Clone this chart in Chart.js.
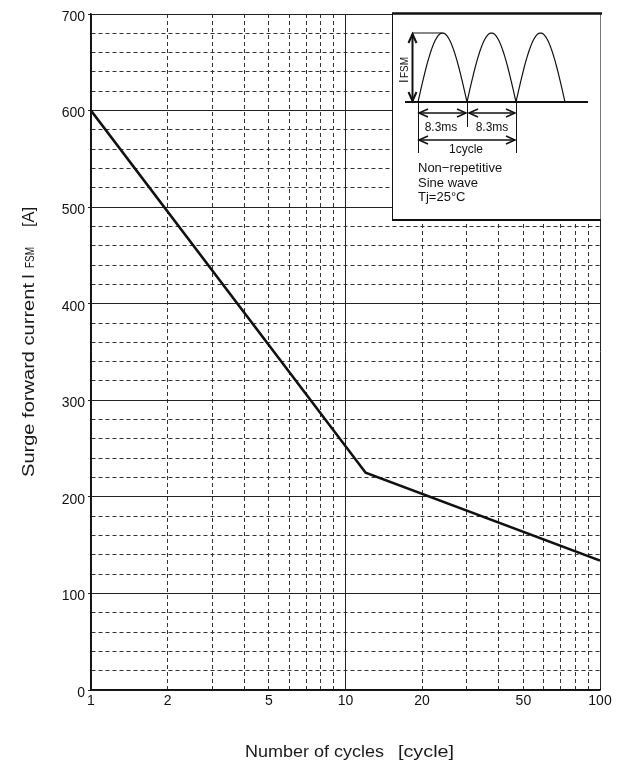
<!DOCTYPE html>
<html>
<head>
<meta charset="utf-8">
<script src="https://cdn.jsdelivr.net/npm/chart.js@4.4.1/dist/chart.umd.min.js"></script>
<style>
  html, body { margin: 0; padding: 0; background: #fff; }
  canvas { display: block; }
</style>
</head>
<body>
<canvas id="surge" width="626" height="765"></canvas>
<script>
// Surge forward current vs. number of cycles (non-repetitive, 60 Hz half-sine)
const cycles = [1, 12, 100];
const surgeCurrent = [600, 225, 134];

// Axis ticks
const cycleGridValues = [1, 2, 3, 4, 5, 6, 7, 8, 9, 10, 20, 30, 40, 50, 60, 70, 80, 90, 100];
const cycleLabels = [1, 2, 5, 10, 20, 50, 100];
const currentMajorStep = 100;
const currentMinorStep = 20;
const currentMax = 700;

const FONT = '"Liberation Sans", Arial, Helvetica, sans-serif';

function isDecade(v) {
  return v === 1 || v === 10 || v === 100;
}

// Draw text squeezed/stretched to an exact length
function fitText(ctx, text, x, y, length) {
  const w = ctx.measureText(text).width;
  ctx.save();
  ctx.translate(x, y);
  ctx.scale(length / w, 1);
  ctx.fillText(text, 0, 0);
  ctx.restore();
}

function arrowHead(ctx, x, y, dir, horizontal) {
  // open chevron arrow head pointing in direction dir (+1 / -1)
  ctx.beginPath();
  if (horizontal) {
    ctx.moveTo(x - dir * 9, y - 4);
    ctx.lineTo(x, y);
    ctx.lineTo(x - dir * 9, y + 4);
  } else {
    ctx.moveTo(x - 4, y - dir * 9);
    ctx.lineTo(x, y);
    ctx.lineTo(x + 4, y - dir * 9);
  }
  ctx.stroke();
}

function hArrow(ctx, x1, x2, y) {
  ctx.beginPath();
  ctx.moveTo(x1, y);
  ctx.lineTo(x2, y);
  ctx.stroke();
  arrowHead(ctx, x1, y, -1, true);
  arrowHead(ctx, x2, y, 1, true);
}

const titlesAndInset = {
  id: 'titlesAndInset',
  afterDraw(chart) {
    const ctx = chart.ctx;
    const area = chart.chartArea;

    // ---- axis titles ----
    ctx.save();
    ctx.fillStyle = '#1a1a1a';
    ctx.textBaseline = 'alphabetic';
    ctx.textAlign = 'left';

    ctx.font = '16px ' + FONT;
    fitText(ctx, 'Number of cycles', 245, 757, 139);
    fitText(ctx, '[cycle]', 398, 757, 56);

    ctx.translate(34, 0);
    ctx.rotate(-Math.PI / 2);
    // rotated frame: x runs upward on screen (x = -screenY)
    ctx.font = '16px ' + FONT;
    fitText(ctx, 'Surge forward current', -477, 0, 194);
    fitText(ctx, 'I', -279, 0, 5);
    ctx.font = '13px ' + FONT;
    fitText(ctx, 'FSM', -268, 0, 21);
    ctx.font = '16px ' + FONT;
    fitText(ctx, '[A]', -227, 0, 20);
    ctx.restore();

    // ---- waveform inset ----
    const ox = area.right - 208;   // left edge of inset box
    const oy = area.top - 1;       // top edge of inset box
    const W = area.right - ox;
    const H = 207;

    ctx.save();
    ctx.fillStyle = '#fff';
    ctx.fillRect(ox, oy, W + 1, H);

    ctx.strokeStyle = '#111';
    ctx.lineWidth = 1;
    ctx.beginPath();
    ctx.moveTo(ox + 0.5, oy);
    ctx.lineTo(ox + 0.5, oy + H);
    ctx.stroke();
    ctx.strokeStyle = '#777';
    ctx.beginPath();
    ctx.moveTo(area.right + 0.5, oy);
    ctx.lineTo(area.right + 0.5, oy + H);
    ctx.stroke();
    ctx.strokeStyle = '#111';
    ctx.lineWidth = 2.5;
    ctx.beginPath();
    ctx.moveTo(ox, oy + 0.5);
    ctx.lineTo(area.right + 2, oy + 0.5);
    ctx.stroke();
    ctx.lineWidth = 2;
    ctx.beginPath();
    ctx.moveTo(ox, oy + H);
    ctx.lineTo(area.right + 1, oy + H);
    ctx.stroke();

    const base = oy + 89;      // zero line of the waveform
    const peak = oy + 20;      // crest height
    const x0 = ox + 26;        // start of first half-wave
    const half = 49;           // width of one half-wave (8.3 ms)

    // baseline
    ctx.lineWidth = 2;
    ctx.beginPath();
    ctx.moveTo(ox + 13, base);
    ctx.lineTo(ox + 196, base);
    ctx.stroke();

    // three half-sine pulses
    ctx.lineWidth = 1.2;
    for (let k = 0; k < 3; k++) {
      ctx.beginPath();
      for (let i = 0; i <= 60; i++) {
        const t = Math.PI * i / 60;
        const px = x0 + k * half + half * i / 60;
        const py = base - (base - peak) * Math.sin(t);
        if (i === 0) ctx.moveTo(px, py); else ctx.lineTo(px, py);
      }
      ctx.stroke();
    }

    // IFSM amplitude marker
    ctx.lineWidth = 1;
    ctx.beginPath();
    ctx.moveTo(ox + 20, peak);
    ctx.lineTo(x0 + half / 2, peak);
    ctx.stroke();
    ctx.lineWidth = 2;
    ctx.beginPath();
    ctx.moveTo(ox + 20.5, peak + 1);
    ctx.lineTo(ox + 20.5, base - 1);
    ctx.stroke();
    arrowHead(ctx, ox + 20.5, peak + 1, -1, false);
    arrowHead(ctx, ox + 20.5, base - 1, 1, false);

    ctx.fillStyle = '#111';
    ctx.save();
    ctx.translate(ox + 16, base - 19);
    ctx.rotate(-Math.PI / 2);
    ctx.textAlign = 'left';
    ctx.textBaseline = 'alphabetic';
    ctx.font = '13px ' + FONT;
    ctx.fillText('I', 0, 0);
    ctx.font = '10px ' + FONT;
    ctx.fillText('FSM', 5, 0);
    ctx.restore();

    // timing marks
    ctx.lineWidth = 1;
    ctx.beginPath();
    ctx.moveTo(x0 + 0.5, base);
    ctx.lineTo(x0 + 0.5, oy + 140);
    ctx.moveTo(x0 + half + 0.5, base);
    ctx.lineTo(x0 + half + 0.5, oy + 114);
    ctx.moveTo(x0 + 2 * half + 0.5, base);
    ctx.lineTo(x0 + 2 * half + 0.5, oy + 140);
    ctx.stroke();

    ctx.lineWidth = 1.5;
    hArrow(ctx, x0 + 1, x0 + half - 1, oy + 100);
    hArrow(ctx, x0 + half + 2, x0 + 2 * half - 1, oy + 100);
    hArrow(ctx, x0 + 1, x0 + 2 * half - 1, oy + 127);

    ctx.textAlign = 'center';
    ctx.textBaseline = 'middle';
    ctx.font = '12px ' + FONT;
    ctx.fillText('8.3ms', x0 + 23, oy + 115);
    ctx.fillText('8.3ms', x0 + half + 25, oy + 115);
    ctx.fillText('1cycle', x0 + half - 1, oy + 137);

    ctx.textAlign = 'left';
    ctx.font = '13px ' + FONT;
    ctx.fillText('Non\u2212repetitive', x0, oy + 155);
    ctx.fillText('Sine wave', x0, oy + 170);
    ctx.fillText('Tj=25\u00B0C', x0, oy + 184);
    ctx.restore();
  }
};

const points = cycles.map((c, i) => ({ x: c, y: surgeCurrent[i] }));

new Chart(document.getElementById('surge'), {
  type: 'line',
  data: {
    datasets: [{
      data: points,
      borderColor: '#111',
      borderWidth: 2.6,
      pointRadius: 0,
      tension: 0,
      fill: false
    }]
  },
  options: {
    responsive: false,
    animation: false,
    devicePixelRatio: 1,
    layout: { padding: { top: 14, right: 26, left: 0, bottom: 0 } },
    plugins: {
      legend: { display: false },
      tooltip: { enabled: false }
    },
    scales: {
      x: {
        type: 'logarithmic',
        min: 1,
        max: 100,
        afterBuildTicks(scale) {
          scale.ticks = cycleGridValues.map(v => ({ value: v }));
        },
        afterFit(scale) { scale.height = 75; },
        ticks: {
          autoSkip: false,
          maxRotation: 0,
          minRotation: 0,
          padding: 3,
          color: '#111',
          font: { family: FONT, size: 14 },
          callback(value) {
            return cycleLabels.includes(value) ? String(value) : '';
          }
        },
        grid: {
          drawTicks: false,
          lineWidth: 1,
          color(ctx) {
            return ctx.tick && isDecade(ctx.tick.value) ? '#222' : '#333';
          }
        },
        border: {
          color: '#111',
          width: 1.5,
          dash(ctx) {
            return ctx.tick && !isDecade(ctx.tick.value) ? [4, 3] : [];
          }
        }
      },
      y: {
        min: 0,
        max: currentMax,
        afterFit(scale) { scale.width = 91; },
        ticks: {
          stepSize: currentMinorStep,
          autoSkip: false,
          padding: 3,
          labelOffset: 3,
          color: '#111',
          font: { family: FONT, size: 14 },
          callback(value) {
            return value % currentMajorStep === 0 ? String(value) : '';
          }
        },
        grid: {
          drawTicks: true,
          tickLength: 3,
          lineWidth: 1,
          color(ctx) {
            return ctx.tick && ctx.tick.value % currentMajorStep === 0 ? '#222' : '#333';
          },
          tickColor(ctx) {
            return ctx.tick && ctx.tick.value % currentMajorStep === 0 ? '#222' : 'rgba(0,0,0,0)';
          }
        },
        border: {
          color: '#111',
          width: 1.5,
          dash(ctx) {
            return ctx.tick && ctx.tick.value % currentMajorStep !== 0 ? [4, 3] : [];
          }
        }
      }
    }
  },
  plugins: [titlesAndInset]
});
</script>
</body>
</html>
